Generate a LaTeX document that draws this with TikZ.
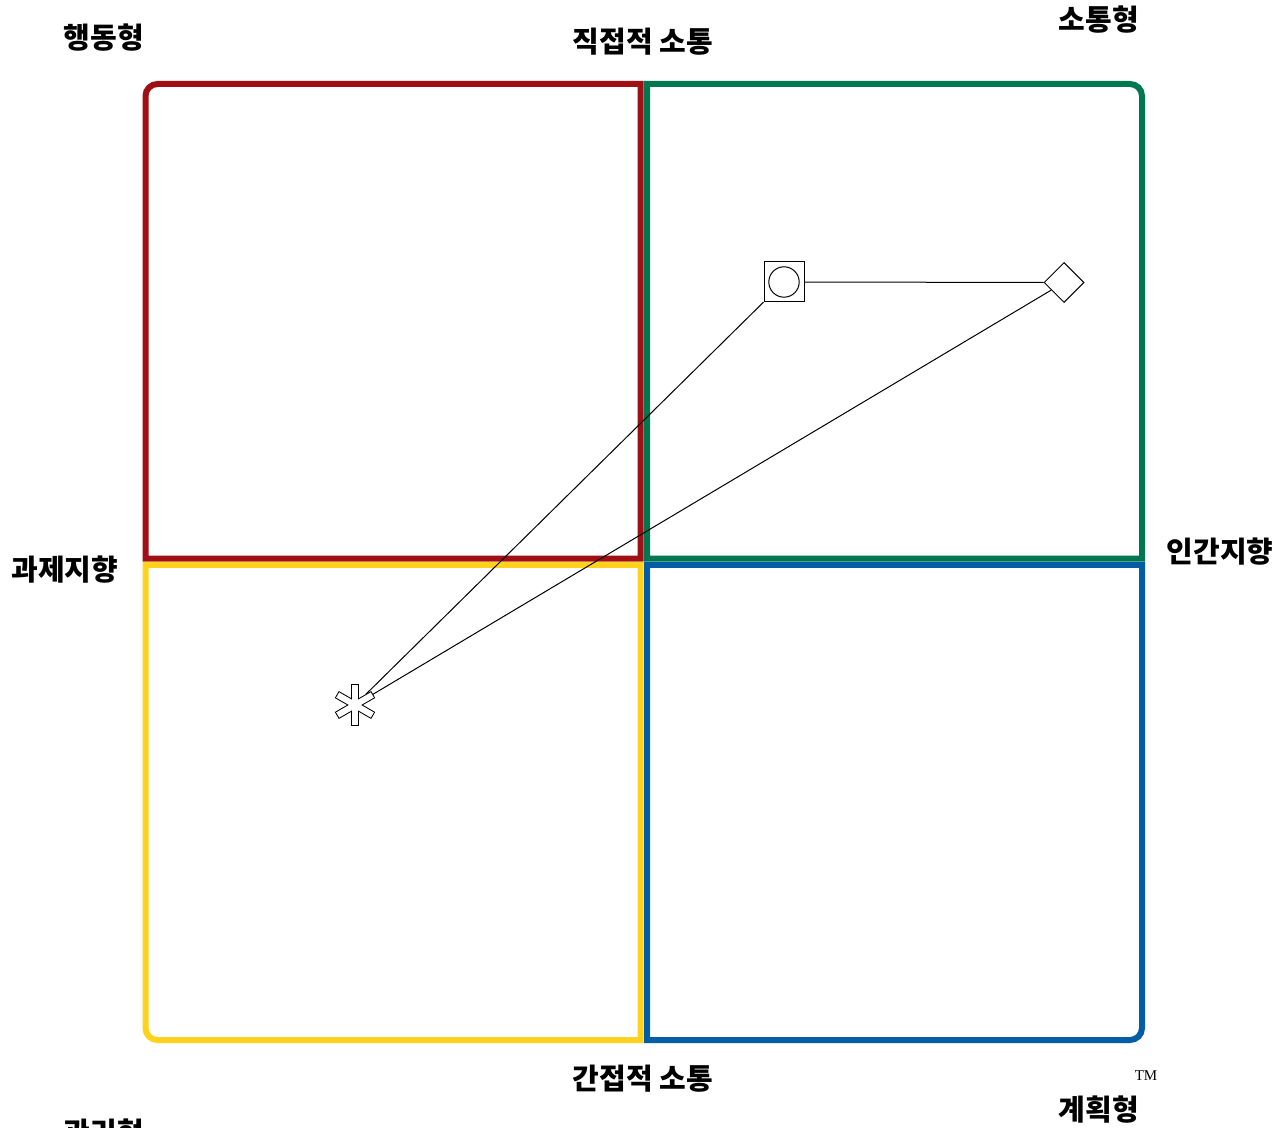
\documentclass[tikz,border=0pt]{standalone}
\usepackage{fontspec}
\newfontfamily\krfont{Noto Sans CJK KR}
\newfontfamily\tmfont{Liberation Serif}
\usetikzlibrary{shapes.geometric}
\definecolor{QuadRed}{HTML}{A00F14}
\definecolor{QuadGreen}{HTML}{00774F}
\definecolor{QuadYellow}{HTML}{FFD21E}
\definecolor{QuadBlue}{HTML}{005DA6}

\begin{document}
\begin{tikzpicture}[x=.5pt,y=-.5pt,
  quad/.style={line width=3pt},
  lbl/.style={font=\krfont\bfseries\fontsize{14.5}{16}\selectfont,inner sep=0pt},
  marker/.style={draw,line width=.5pt,inner sep=0pt,minimum size=20pt}]
  \useasboundingbox (0,0) rectangle (1286,1128);
  % four quadrants, outer corners rounded
  \draw[QuadRed,quad] (640.7,558.7) -- (145.5,558.7) -- (145.5,96) arc[start angle=180,end angle=90,radius=6pt] -- (640.7,84) -- cycle;
  \draw[QuadGreen,quad] (647,558.7) -- (647,84) -- (1130,84) arc[start angle=90,end angle=0,radius=6pt] -- (1142,558.7) -- cycle;
  \draw[QuadYellow,quad] (640.7,565) -- (145.5,565) -- (145.5,1028) arc[start angle=180,end angle=270,radius=6pt] -- (640.7,1040) -- cycle;
  \draw[QuadBlue,quad] (647,565) -- (1142,565) -- (1142,1028) arc[start angle=0,end angle=-90,radius=6pt] -- (647,1040) -- cycle;
  % labels
  \node[lbl] (act) at (104,38) {행동형}; \node[lbl] (direct) at (643,42) {직접적 소통};
  \node[lbl] (comm) at (1099,20) {소통형}; \node[lbl] (task) at (65,570) {과제지향};
  \node[lbl] (people) at (1220,552) {인간지향}; \node[lbl] (indirect) at (643,1079) {간접적 소통};
  \node[lbl] (plan) at (1099,1110) {계획형}; \node[lbl] (manage) at (104,1133) {관리형};
  \node[font=\tmfont\fontsize{7.5}{9}\selectfont,inner sep=0pt] (tm) at (1146,1076) {TM};
  % markers
  \node[marker,rectangle] (sq) at (784,282) {}; \draw[line width=.5pt] (sq.center) circle (7.6pt);
  \node[marker,diamond] (dm) at (1064,282.5) {};
  \node[circle,minimum size=15pt,inner sep=0pt] (ast) at (355,705) {};
  \draw[line width=.5pt] (sq) -- (dm); \draw[line width=.5pt] (sq) -- (ast); \draw[line width=.5pt] (dm) -- (ast);
  \foreach \a in {90,30,-30} \draw[line width=1pt,rotate around={\a:(ast.center)}] ([shift={(-10pt,-1.5pt)}]ast.center) rectangle ([shift={(10pt,1.5pt)}]ast.center);
  \foreach \a in {90,30,-30} \fill[white,rotate around={\a:(ast.center)}] ([shift={(-10pt,-1.5pt)}]ast.center) rectangle ([shift={(10pt,1.5pt)}]ast.center);
\end{tikzpicture}
\end{document}
